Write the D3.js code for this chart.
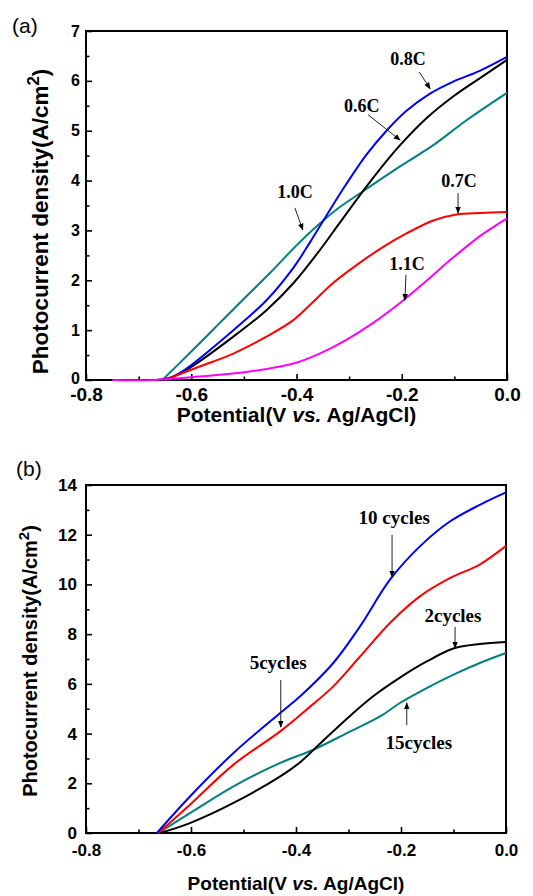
<!DOCTYPE html>
<html lang="en">
<head>
<meta charset="utf-8">
<title>Photocurrent density</title>
<script src="https://cdn.jsdelivr.net/npm/d3@7"></script>
<style>
  body { margin: 0; background: #fff; }
  svg text { font-family: "Liberation Sans", Arial, sans-serif; }
  .note { font-family: "Liberation Serif", "Times New Roman", serif !important; font-weight: bold; }
</style>
</head>
<body>
<script>
// panel (a) curves: [potential V, photocurrent]
var c06 = [[-0.75,0],[-0.70,0],[-0.65,0.02],[-0.61,0.2],[-0.52,0.87],[-0.457,1.4],[-0.406,1.94],[-0.356,2.6],[-0.318,3.15],[-0.28,3.7],[-0.242,4.22],[-0.204,4.7],[-0.153,5.25],[-0.103,5.68],[-0.052,6.05],[0,6.42]];
var c08 = [[-0.644,0],[-0.609,0.23],[-0.52,1.0],[-0.457,1.6],[-0.406,2.25],[-0.375,2.75],[-0.343,3.3],[-0.306,3.92],[-0.267,4.52],[-0.229,5.0],[-0.191,5.4],[-0.147,5.74],[-0.103,5.98],[-0.052,6.2],[0,6.48]];
var c10 = [[-0.655,0],[-0.6,0.57],[-0.55,1.1],[-0.5,1.63],[-0.45,2.15],[-0.4,2.7],[-0.36,3.1],[-0.32,3.45],[-0.28,3.74],[-0.204,4.28],[-0.14,4.71],[-0.077,5.21],[0,5.76]];
var c07 = [[-0.65,0],[-0.584,0.27],[-0.52,0.53],[-0.457,0.87],[-0.406,1.2],[-0.37,1.55],[-0.33,1.95],[-0.28,2.35],[-0.235,2.67],[-0.191,2.94],[-0.14,3.2],[-0.096,3.32],[-0.05,3.35],[0,3.37]];
var c11 = [[-0.75,0],[-0.67,0],[-0.584,0.07],[-0.489,0.17],[-0.406,0.33],[-0.356,0.53],[-0.306,0.8],[-0.255,1.14],[-0.204,1.54],[-0.154,1.98],[-0.103,2.45],[-0.052,2.88],[0,3.24]];

// panel (b) curves
var cy10 = [[-0.665,0],[-0.602,1.47],[-0.519,3.22],[-0.43,4.83],[-0.392,5.5],[-0.329,6.84],[-0.278,8.31],[-0.221,10.19],[-0.164,11.53],[-0.107,12.53],[-0.05,13.2],[0,13.7]];
var cy5 = [[-0.662,0],[-0.602,1.14],[-0.519,2.75],[-0.43,4.09],[-0.38,4.96],[-0.329,5.9],[-0.278,7.1],[-0.221,8.45],[-0.164,9.52],[-0.107,10.25],[-0.05,10.8],[0,11.55]];
var cy2 = [[-0.659,0],[-0.602,0.4],[-0.519,1.21],[-0.43,2.28],[-0.392,2.85],[-0.354,3.6],[-0.303,4.6],[-0.253,5.5],[-0.202,6.25],[-0.151,6.9],[-0.1,7.42],[-0.05,7.6],[0,7.68]];
var cy15 = [[-0.662,0],[-0.602,0.8],[-0.519,1.88],[-0.43,2.82],[-0.367,3.35],[-0.303,4.02],[-0.24,4.69],[-0.202,5.23],[-0.151,5.83],[-0.1,6.37],[-0.05,6.84],[0,7.24]];

var xTicks = [-0.8, -0.6, -0.4, -0.2, 0.0];
var xMinor = [-0.7, -0.5, -0.3, -0.1];
var yTicksA = [0, 1, 2, 3, 4, 5, 6, 7];
var yMinorA = [0.5, 1.5, 2.5, 3.5, 4.5, 5.5, 6.5];
var yTicksB = [0, 2, 4, 6, 8, 10, 12, 14];
var yMinorB = [1, 3, 5, 7, 9, 11, 13];

// labels: text, text position, arrow start, arrow end (data coords)
var notesA = [
  ["0.8C", [-0.188, 6.32], [-0.167, 6.18], [-0.146, 5.84]],
  ["0.6C", [-0.276, 5.38], [-0.264, 5.32], [-0.203, 4.81]],
  ["1.0C", [-0.403, 3.65], [-0.403, 3.45], [-0.388, 3.01]],
  ["0.7C", [-0.091, 3.87], [-0.093, 3.75], [-0.093, 3.35]],
  ["1.1C", [-0.190, 2.21], [-0.192, 2.11], [-0.194, 1.60]]
];
var notesB = [
  ["10 cycles", [-0.213, 12.43], [-0.217, 11.99], [-0.217, 10.30]],
  ["2cycles", [-0.101, 8.49], [-0.097, 8.29], [-0.097, 7.44]],
  ["5cycles", [-0.434, 6.60], [-0.429, 6.16], [-0.429, 4.26]],
  ["15cycles", [-0.166, 3.38], [-0.189, 4.34], [-0.189, 5.23]]
];

var svg = d3.select("body").append("svg")
    .attr("width", 533)
    .attr("height", 896);

svg.append("defs").append("marker")
    .attr("id", "head")
    .attr("viewBox", "0 0 10 10")
    .attr("refX", 9).attr("refY", 5)
    .attr("markerWidth", 7).attr("markerHeight", 7)
    .attr("markerUnits", "userSpaceOnUse")
    .attr("orient", "auto")
  .append("path")
    .attr("d", "M0,1L10,5L0,9Z")
    .attr("fill", "#000");

function panel(p) {
  var x = d3.scaleLinear().domain([-0.8, 0]).range([p.left, p.right]);
  var y = d3.scaleLinear().domain([0, p.ymax]).range([p.bottom, p.top]);
  var g = svg.append("g");

  // minor ticks
  g.append("g").attr("transform", "translate(0," + p.bottom + ")")
      .call(d3.axisBottom(x).tickValues(xMinor).tickSize(-3.5).tickFormat(""))
      .call(function(a) { a.select(".domain").remove(); });
  g.append("g").attr("transform", "translate(" + p.left + ",0)")
      .call(d3.axisLeft(y).tickValues(p.yMinor).tickSize(-3.5).tickFormat(""))
      .call(function(a) { a.select(".domain").remove(); });

  // major ticks
  var xa = g.append("g").attr("transform", "translate(0," + p.bottom + ")")
      .call(d3.axisBottom(x).tickValues(xTicks).tickSize(-6).tickPadding(p.xPad));
  xa.select(".domain").remove();
  xa.selectAll("text").attr("font-size", p.xFont).attr("font-weight", "bold").attr("fill", "#000")
      .text(function(d) { return d3.format(".1f")(d).replace("\u2212", "-"); });

  var ya = g.append("g").attr("transform", "translate(" + p.left + ",0)")
      .call(d3.axisLeft(y).tickValues(p.yTicks).tickSize(-6).tickPadding(p.yPad).tickFormat(d3.format("d")));
  ya.select(".domain").remove();
  ya.selectAll("text").attr("font-size", p.yFont).attr("font-weight", "bold").attr("fill", "#000")
      .attr("dy", function(d) { return d === 0 ? p.zeroDy : "0.32em"; });
  g.selectAll(".tick line").attr("stroke", "#000").attr("stroke-width", 1.6);

  // frame
  g.append("rect")
      .attr("x", p.left).attr("y", p.top)
      .attr("width", p.right - p.left).attr("height", p.bottom - p.top)
      .attr("fill", "none").attr("stroke", "#000").attr("stroke-width", 2);

  var line = d3.line()
      .x(function(d) { return x(d[0]); })
      .y(function(d) { return y(d[1]); })
      .curve(d3.curveCatmullRom.alpha(0.5));

  p.series.forEach(function(s) {
    g.append("path")
        .datum(s.data)
        .attr("d", line)
        .attr("fill", "none")
        .attr("stroke", s.color)
        .attr("stroke-width", 2);
  });

  p.notes.forEach(function(n) {
    g.append("text")
        .attr("class", "note")
        .attr("x", x(n[1][0])).attr("y", y(n[1][1]))
        .attr("text-anchor", "middle")
        .attr("font-size", p.noteFont)
        .text(n[0]);
    g.append("line")
        .attr("x1", x(n[2][0])).attr("y1", y(n[2][1]))
        .attr("x2", x(n[3][0])).attr("y2", y(n[3][1]))
        .attr("stroke", "#222").attr("stroke-width", 1)
        .attr("marker-end", "url(#head)");
  });

  // axis titles
  var xt = g.append("text")
      .attr("x", (p.left + p.right) / 2).attr("y", p.xTitleY)
      .attr("text-anchor", "middle")
      .attr("font-size", p.titleFont).attr("font-weight", "bold");
  xt.append("tspan").text("Potential(V ");
  xt.append("tspan").attr("font-style", "italic").text("vs.");
  xt.append("tspan").text(" Ag/AgCl)");

  var yt = g.append("text")
      .attr("transform", "translate(" + p.yTitleX + "," + ((p.top + p.bottom) / 2 + p.yTitleShift) + ") rotate(-90)")
      .attr("text-anchor", "middle")
      .attr("font-size", p.yTitleFont).attr("font-weight", "bold");
  yt.append("tspan").text("Photocurrent density(A/cm");
  yt.append("tspan").attr("dy", -p.yTitleFont * 0.4).attr("font-size", p.yTitleFont * 0.75).text("2");
  yt.append("tspan").attr("dy", p.yTitleFont * 0.4).text(")");

  g.append("text")
      .attr("x", p.tagX).attr("y", p.tagY)
      .attr("font-size", 21)
      .text(p.tag);
}

panel({
  left: 86, right: 507, top: 31, bottom: 380, ymax: 7,
  yTicks: yTicksA, yMinor: yMinorA,
  xFont: 19, yFont: 16, xPad: 8, yPad: 6, zeroDy: "0.2em",
  titleFont: 21, xTitleY: 422,
  yTitleFont: 22.5, yTitleX: 48, yTitleShift: 16,
  noteFont: 18,
  tag: "(a)", tagX: 12, tagY: 33,
  series: [
    { data: c10, color: "#008080" },
    { data: c06, color: "#000000" },
    { data: c08, color: "#0000ff" },
    { data: c07, color: "#ff0000" },
    { data: c11, color: "#ff00ff" }
  ],
  notes: notesA
});

panel({
  left: 86, right: 506, top: 485, bottom: 833, ymax: 14,
  yTicks: yTicksB, yMinor: yMinorB,
  xFont: 17, yFont: 17, xPad: 11, yPad: 9, zeroDy: "0.32em",
  titleFont: 19, xTitleY: 890,
  yTitleFont: 20, yTitleX: 37, yTitleShift: 2,
  noteFont: 19,
  tag: "(b)", tagX: 16, tagY: 476,
  series: [
    { data: cy15, color: "#008080" },
    { data: cy2, color: "#000000" },
    { data: cy5, color: "#ff0000" },
    { data: cy10, color: "#0000ff" }
  ],
  notes: notesB
});
</script>
</body>
</html>
